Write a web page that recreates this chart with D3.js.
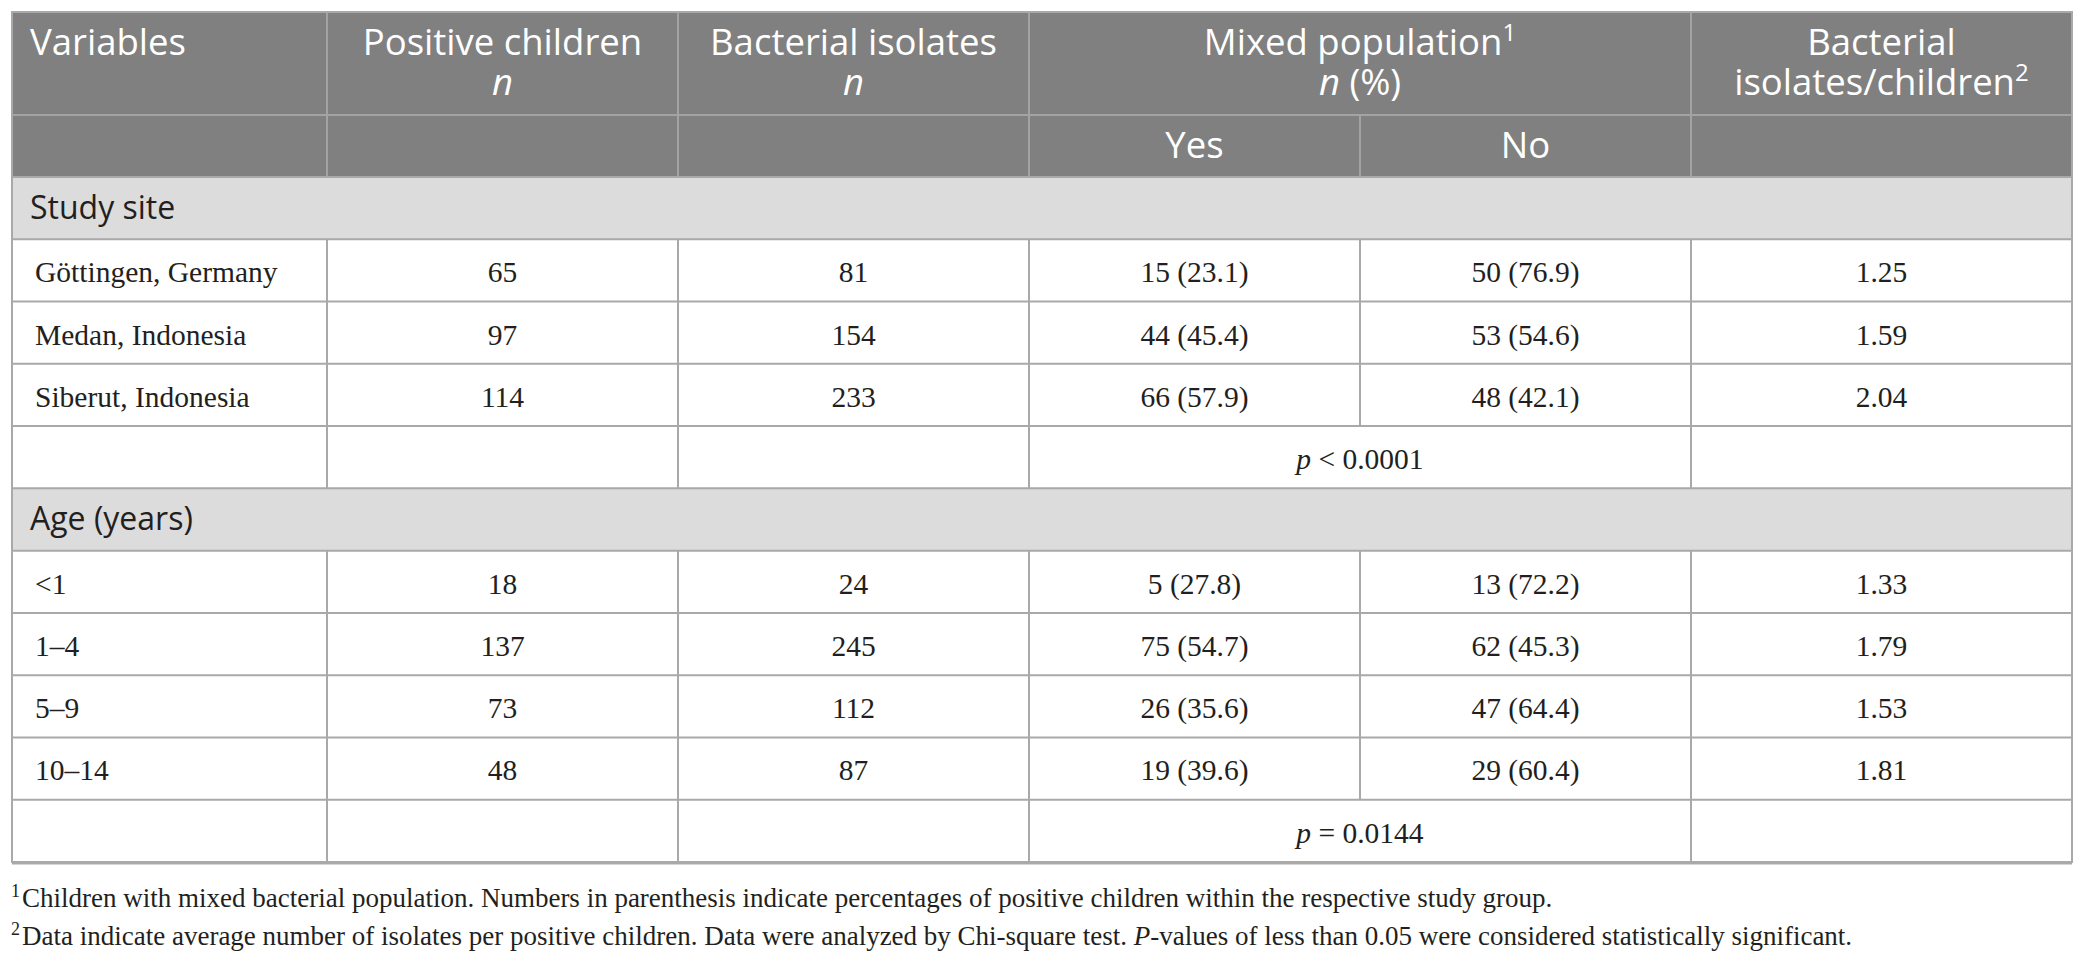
<!DOCTYPE html>
<html>
<head>
<meta charset="utf-8">
<script src="https://cdn.jsdelivr.net/npm/d3@7/dist/d3.min.js"></script>
<style>
  html, body { margin: 0; padding: 0; background: #fff; }
  svg { display: block; }
</style>
</head>
<body>
<svg id="chart" width="2085" height="965"></svg>
<script>
// ---------------- DATA ----------------
const columns = ["Variables", "Positive children", "Bacterial isolates", "Yes", "No", "Bacterial isolates/children"];
const sections = ["Study site", "Age (years)"];
const siteLabels = ["Göttingen, Germany", "Medan, Indonesia", "Siberut, Indonesia"];
const sitePositive = [65, 97, 114];
const siteIsolates = [81, 154, 233];
const siteMixedYes = ["15 (23.1)", "44 (45.4)", "66 (57.9)"];
const siteMixedNo = ["50 (76.9)", "53 (54.6)", "48 (42.1)"];
const siteRatio = ["1.25", "1.59", "2.04"];
const siteP = " < 0.0001";
const ageLabels = ["<1", "1–4", "5–9", "10–14"];
const agePositive = [18, 137, 73, 48];
const ageIsolates = [24, 245, 112, 87];
const ageMixedYes = ["5 (27.8)", "75 (54.7)", "26 (35.6)", "19 (39.6)"];
const ageMixedNo = ["13 (72.2)", "62 (45.3)", "47 (64.4)", "29 (60.4)"];
const ageRatio = ["1.33", "1.79", "1.53", "1.81"];
const ageP = " = 0.0144";
const footnotes = [
  { sup: "1", text: "Children with mixed bacterial population. Numbers in parenthesis indicate percentages of positive children within the respective study group." },
  { sup: "2", text: "Data indicate average number of isolates per positive children. Data were analyzed by Chi-square test. ", ital: "P", rest: "-values of less than 0.05 were considered statistically significant." }
];

// ---------------- LAYOUT ----------------
const svg = d3.select("#chart");
const tL = 12, tR = 2072, tT = 12, tB = 862;
const colWeights = [315, 351, 351, 331, 331, 381];
const colEdges = [0];
colWeights.forEach(w => colEdges.push(colEdges[colEdges.length - 1] + w));
const xCol = d3.scaleLinear().domain([0, colEdges[colEdges.length - 1]]).range([tL, tR]);
const X = i => xCol(colEdges[i]);
const XC = i => (X(i) + X(i + 1)) / 2;

const head1Bottom = 115, head2Bottom = 177;
const nRows = 11;
const yRow = d3.scaleLinear().domain([0, nRows]).range([head2Bottom, tB]);

const HEAD_BG = "#808080", SEC_BG = "#dcdcdc", LINE = "#a9a9a9", HEAD_LINE = "#a3a3a3";
const SANS = "'Open Sans', 'Noto Sans', sans-serif";
const SERIF = "'Liberation Serif', 'Times New Roman', serif";
const HFS = 36.5;

svg.append("rect").attr("x", tL).attr("y", tT).attr("width", tR - tL).attr("height", head2Bottom - tT).attr("fill", HEAD_BG);

const rows = [];
rows.push({ type: "section", label: sections[0] });
siteLabels.forEach((l, i) => rows.push({ type: "data", cells: [l, sitePositive[i], siteIsolates[i], siteMixedYes[i], siteMixedNo[i], siteRatio[i]] }));
rows.push({ type: "p", op: siteP });
rows.push({ type: "section", label: sections[1] });
ageLabels.forEach((l, i) => rows.push({ type: "data", cells: [l, agePositive[i], ageIsolates[i], ageMixedYes[i], ageMixedNo[i], ageRatio[i]] }));
rows.push({ type: "p", op: ageP });

rows.forEach((r, i) => {
  if (r.type === "section") {
    svg.append("rect").attr("x", tL).attr("y", yRow(i)).attr("width", tR - tL).attr("height", yRow(i + 1) - yRow(i)).attr("fill", SEC_BG);
  }
});

const g = svg.append("g").attr("stroke-width", 2).attr("fill", "none");
g.append("line").attr("x1", tL).attr("x2", tR).attr("y1", head1Bottom).attr("y2", head1Bottom).attr("stroke", HEAD_LINE);
[1, 2, 3, 5].forEach(c => g.append("line").attr("x1", X(c)).attr("x2", X(c)).attr("y1", tT).attr("y2", head1Bottom).attr("stroke", HEAD_LINE));
[1, 2, 3, 4, 5].forEach(c => g.append("line").attr("x1", X(c)).attr("x2", X(c)).attr("y1", head1Bottom).attr("y2", head2Bottom).attr("stroke", HEAD_LINE));
for (let i = 0; i <= nRows; i++) {
  g.append("line").attr("x1", tL).attr("x2", tR).attr("y1", yRow(i)).attr("y2", yRow(i)).attr("stroke", LINE);
}
rows.forEach((r, i) => {
  let cs = [];
  if (r.type === "data") cs = [1, 2, 3, 4, 5];
  if (r.type === "p") cs = [1, 2, 3, 5];
  cs.forEach(c => g.append("line").attr("x1", X(c)).attr("x2", X(c)).attr("y1", yRow(i)).attr("y2", yRow(i + 1)).attr("stroke", LINE));
});
g.append("rect").attr("x", tL).attr("y", tT).attr("width", tR - tL).attr("height", tB - tT).attr("stroke", LINE);
g.append("line").attr("x1", tL).attr("x2", tR).attr("y1", tB + 1.5).attr("y2", tB + 1.5).attr("stroke", LINE);

// header text (two-line headers as one text element with tspans)
const H = svg.append("g").attr("fill", "#fff").attr("font-family", SANS).attr("font-size", HFS);
H.append("text").attr("x", 30).attr("y", 55).text("Variables");
[[1, "Positive children"], [2, "Bacterial isolates"]].forEach(([c, t]) => {
  const tx = H.append("text").attr("x", XC(c)).attr("y", 55).attr("text-anchor", "middle");
  tx.append("tspan").attr("x", XC(c)).text(t);
  tx.append("tspan").attr("x", XC(c)).attr("dy", 40).attr("font-style", "italic").text("n");
});
const mixC = X(4);
const mt = H.append("text").attr("x", mixC).attr("y", 55).attr("text-anchor", "middle");
const l1 = mt.append("tspan").attr("x", mixC);
l1.append("tspan").text("Mixed population");
l1.append("tspan").attr("font-size", 24).attr("dy", -14).text("1");
const l2 = mt.append("tspan").attr("x", mixC).attr("dy", 54);
l2.append("tspan").attr("font-style", "italic").text("n");
l2.append("tspan").text(" (%)");
const bt = H.append("text").attr("x", XC(5)).attr("y", 55).attr("text-anchor", "middle");
bt.append("tspan").attr("x", XC(5)).text("Bacterial");
const b2 = bt.append("tspan").attr("x", XC(5)).attr("dy", 40);
b2.append("tspan").text("isolates/children");
b2.append("tspan").attr("font-size", 24).attr("dy", -14).text("2");
H.append("text").attr("x", XC(3)).attr("y", 158).attr("text-anchor", "middle").text("Yes");
H.append("text").attr("x", XC(4)).attr("y", 158).attr("text-anchor", "middle").text("No");

// body text
const B = svg.append("g");
rows.forEach((r, i) => {
  const y0 = yRow(i);
  if (r.type === "section") {
    B.append("text").attr("x", 30).attr("y", y0 + 42).attr("font-family", SANS).attr("font-size", 32).attr("fill", "#231f20").text(r.label);
  } else if (r.type === "data") {
    r.cells.forEach((v, c) => {
      B.append("text")
        .attr("x", c === 0 ? 35 : XC(c))
        .attr("y", y0 + 43)
        .attr("text-anchor", c === 0 ? "start" : "middle")
        .attr("font-family", SERIF).attr("font-size", 29.5).attr("fill", "#231f20")
        .text(v);
    });
  } else if (r.type === "p") {
    const t = B.append("text").attr("x", X(4)).attr("y", y0 + 43).attr("text-anchor", "middle")
      .attr("font-family", SERIF).attr("font-size", 29.5).attr("fill", "#231f20");
    t.append("tspan").attr("font-style", "italic").text("p");
    t.append("tspan").text(r.op);
  }
});

// footnotes
const F = svg.append("g").attr("font-family", SERIF).attr("font-size", 27).attr("fill", "#231f20");
footnotes.forEach((f, i) => {
  const t = F.append("text").attr("x", 11).attr("y", 907 + i * 38);
  t.append("tspan").attr("font-size", 18).attr("dy", -10).text(f.sup);
  t.append("tspan").attr("dy", 10).attr("dx", 2).text(f.text);
  if (f.ital) {
    t.append("tspan").attr("font-style", "italic").text(f.ital);
    t.append("tspan").text(f.rest);
  }
});
</script>
</body>
</html>
